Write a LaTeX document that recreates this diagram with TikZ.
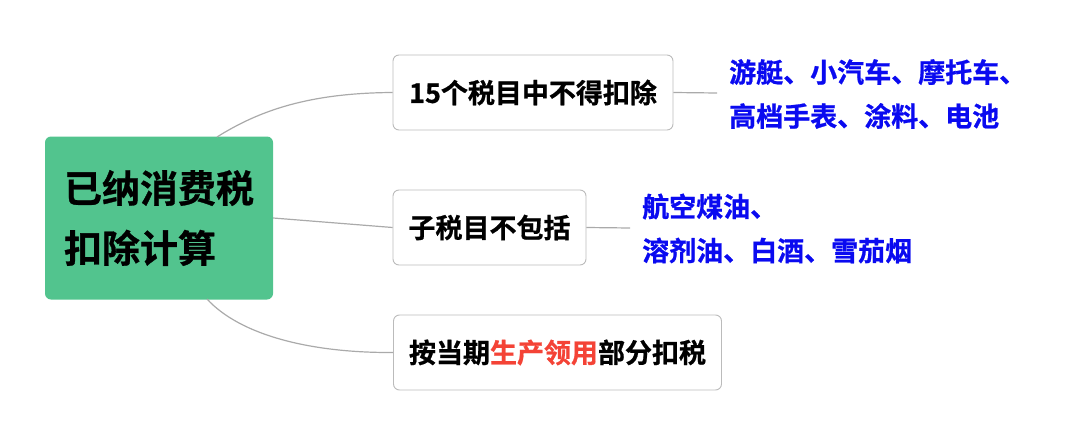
\documentclass[tikz,border=0pt]{standalone}
\usepackage{fontspec}
\setmainfont{Noto Sans CJK SC Bold}[FakeBold=0.8]
\definecolor{rootgreen}{HTML}{52C48E}
\definecolor{linegray}{HTML}{AAAAAA}
\definecolor{boxgray}{HTML}{BBBBBB}
\definecolor{itemblue}{HTML}{0A0AF0}
\definecolor{hlred}{HTML}{F44336}
\tikzset{
  rootbox/.style={fill=rootgreen, draw=none, rounded corners=6pt, align=left,
    minimum width=228pt, minimum height=163pt, inner sep=0pt,
    font=\fontsize{38}{60}\selectfont},
  subbox/.style={draw=boxgray, line width=0.9pt, fill=white, rounded corners=6pt,
    minimum height=75pt, inner sep=0pt, font=\fontsize{27}{30}\selectfont},
  itemtext/.style={anchor=west, align=left, inner sep=0pt, text=itemblue,
    font=\fontsize{27}{44}\selectfont},
  conn/.style={draw=linegray, line width=1.2pt}
}
\begin{document}
\begin{tikzpicture}[x=1pt,y=-1pt]
\useasboundingbox (0,0) rectangle (1084,436);
\node[rootbox] (root) at (159,218) {已纳消费税\\扣除计算};
\node[subbox, minimum width=280pt] (b1) at (533,92.5) {15个税目中不得扣除};
\node[subbox, minimum width=193pt] (b2) at (489.5,227.5) {子税目不包括};
\node[subbox, minimum width=328pt] (b3) at (557.5,352.5) {按当期\textcolor{hlred}{生产领用}部分扣税};
\node[itemtext] (t1) at (729,94) {游艇、小汽车、摩托车、\\高档手表、涂料、电池};
\node[itemtext] (t2) at (642,228.5) {航空煤油、\\溶剂油、白酒、雪茄烟};
\coordinate (r1) at (217,137);
\coordinate (r3) at (207,299);
\coordinate (e1) at (717,93);
\coordinate (e2) at (630,228);
\draw[conn] (r1) .. controls (260,110) and (310,93) .. (b1.west);
\draw[conn] (root.east) -- (b2.west);
\draw[conn] (r3) .. controls (240,335) and (310,353) .. (b3.west);
\draw[conn] (b1.east) -- (e1);
\draw[conn] (b2.east) -- (e2);
\end{tikzpicture}
\end{document}
